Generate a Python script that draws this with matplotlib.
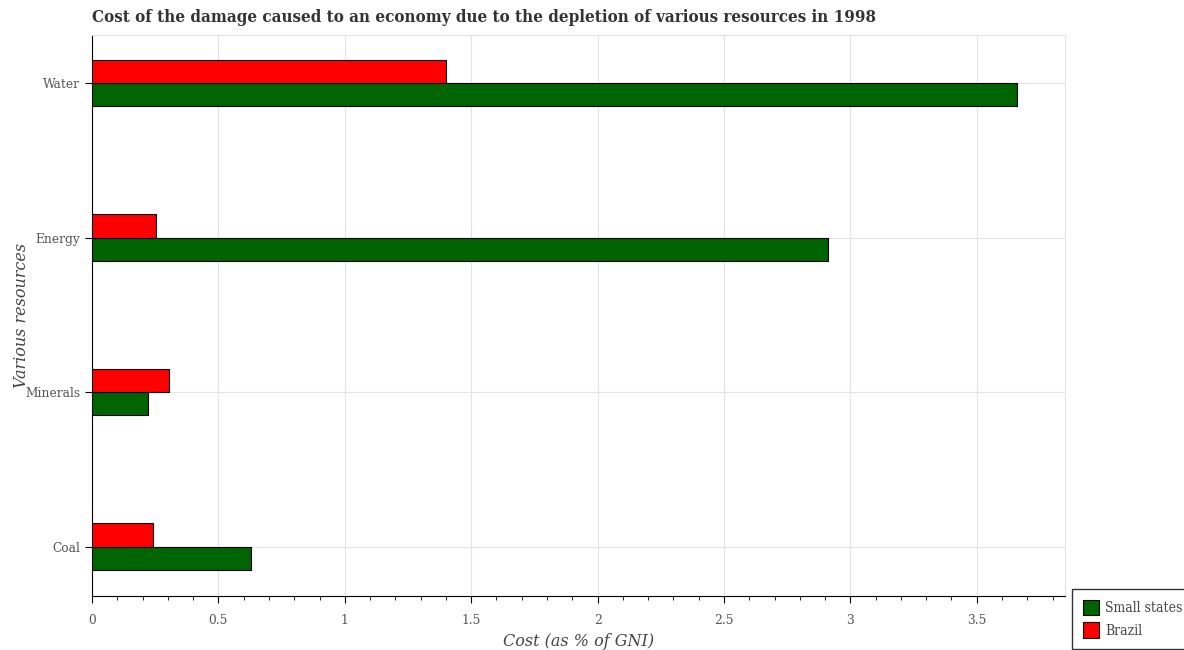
import matplotlib
matplotlib.use("Agg")
from matplotlib import pyplot as plt
from matplotlib.ticker import MultipleLocator
import numpy as np

resources = ["Coal", "Minerals", "Energy", "Water"]
small_states = [0.629, 0.221, 2.912, 3.658]
brazil = [0.243, 0.305, 0.255, 1.401]

plt.rcParams['font.family'] = 'DejaVu Serif'

fig = plt.figure(figsize=(11.84, 6.5), dpi=100)
ax = fig.add_axes([0.0777, 0.083, 0.822, 0.863])

y = np.arange(len(resources))
h = 0.15
ax.barh(y - h / 2, small_states, height=h, color='#006400', edgecolor='black', linewidth=0.8, label='Small states', zorder=3)
ax.barh(y + h / 2, brazil, height=h, color='#ff0000', edgecolor='black', linewidth=0.8, label='Brazil', zorder=3)

ax.set_xlim(0, 3.85)
ax.set_ylim(-0.32, 3.31)
ax.set_yticks(y)
ax.set_yticklabels(resources)
ax.xaxis.set_major_locator(MultipleLocator(0.5))
ax.xaxis.set_minor_locator(MultipleLocator(0.1))
ax.xaxis.set_major_formatter(plt.FuncFormatter(lambda v, p: '%g' % v))

ax.grid(True, color='#e3e3e3', linewidth=0.8, zorder=0)
for s in ['top', 'right']:
    ax.spines[s].set_color('#e3e3e3')

ax.tick_params(axis='both', which='major', labelsize=8.8, labelcolor='#555555', length=5, color='black')
ax.tick_params(axis='x', which='minor', length=3, color='black')
ax.tick_params(axis='x', pad=8)

ax.set_xlabel("Cost (as % of GNI)", fontsize=11.5, style='italic', color='#444444')
ax.set_ylabel("Various resources", fontsize=11.5, style='italic', color='#444444')
ax.yaxis.set_label_coords(-0.064, 0.5)

fig.text(0.0777, 0.96, "Cost of the damage caused to an economy due to the depletion of various resources in 1998",
         fontsize=12.2, fontweight='bold', fontstretch='condensed', color='#333333', va='bottom')

leg = fig.legend(loc='lower left', bbox_to_anchor=(0.8995, -0.009),
                 prop={'size': 10, 'stretch': 'condensed'}, frameon=True,
                 fancybox=False, edgecolor='black', handlelength=1.15, handleheight=1.35,
                 borderpad=0.8, labelspacing=0.5, handletextpad=0.45)
for t in leg.get_texts():
    t.set_color('#444444')
leg.get_frame().set_linewidth(1.0)

fig.savefig("out.png", dpi=100)
